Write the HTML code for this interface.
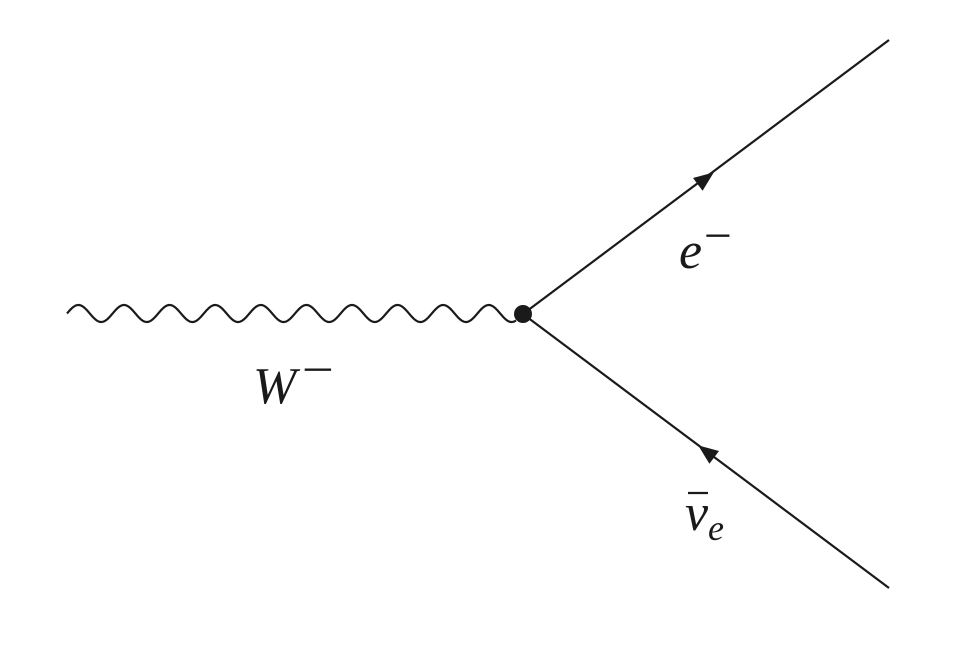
<!DOCTYPE html>
<html><head><style>body{margin:0;background:#fff}
.t{font-family:"Liberation Serif","DejaVu Serif",serif;font-style:italic;fill:#1a1a1a}
.m{font-family:"Liberation Serif","DejaVu Serif",serif;fill:#1a1a1a}
</style></head><body>
<svg width="965" height="650" xmlns="http://www.w3.org/2000/svg">
<rect width="965" height="650" fill="#fff"/>
<path id="w" fill="none" stroke="#1a1a1a" stroke-width="2.2" d="M67,313.5"/>
<script>
var d="M67,313.5";for(var x=67.5;x<=516;x+=0.5){var y=313.5-8.5*Math.sin(2*Math.PI*(x-67)/45.6);d+=" L"+x+","+y.toFixed(2);}document.getElementById('w').setAttribute('d',d);
</script>
<line x1="523" y1="314" x2="889" y2="40" stroke="#1a1a1a" stroke-width="2.2"/>
<line x1="523" y1="314" x2="889" y2="588" stroke="#1a1a1a" stroke-width="2.2"/>
<circle cx="523" cy="314" r="9" fill="#1a1a1a"/>
<g transform="translate(705,179) rotate(-36.8)"><polygon points="11,0 -9,-8 -9,8" fill="#1a1a1a"/></g>
<g transform="translate(707,452) rotate(-143.2)"><polygon points="11,0 -9,-8 -9,8" fill="#1a1a1a"/></g>
<text class="t" x="253" y="403" font-size="52">W</text>
<text class="m" x="302" y="385" font-size="46" textLength="32" lengthAdjust="spacingAndGlyphs">−</text>
<text class="t" x="679" y="268" font-size="52">e</text>
<text class="m" x="704" y="251" font-size="46" textLength="28" lengthAdjust="spacingAndGlyphs">−</text>
<text class="t" x="685" y="530" font-size="52">ν</text>
<line x1="688" y1="493" x2="708" y2="493" stroke="#1a1a1a" stroke-width="2.2"/>
<text class="t" x="708" y="540" font-size="36">e</text>
</svg>
</body></html>
